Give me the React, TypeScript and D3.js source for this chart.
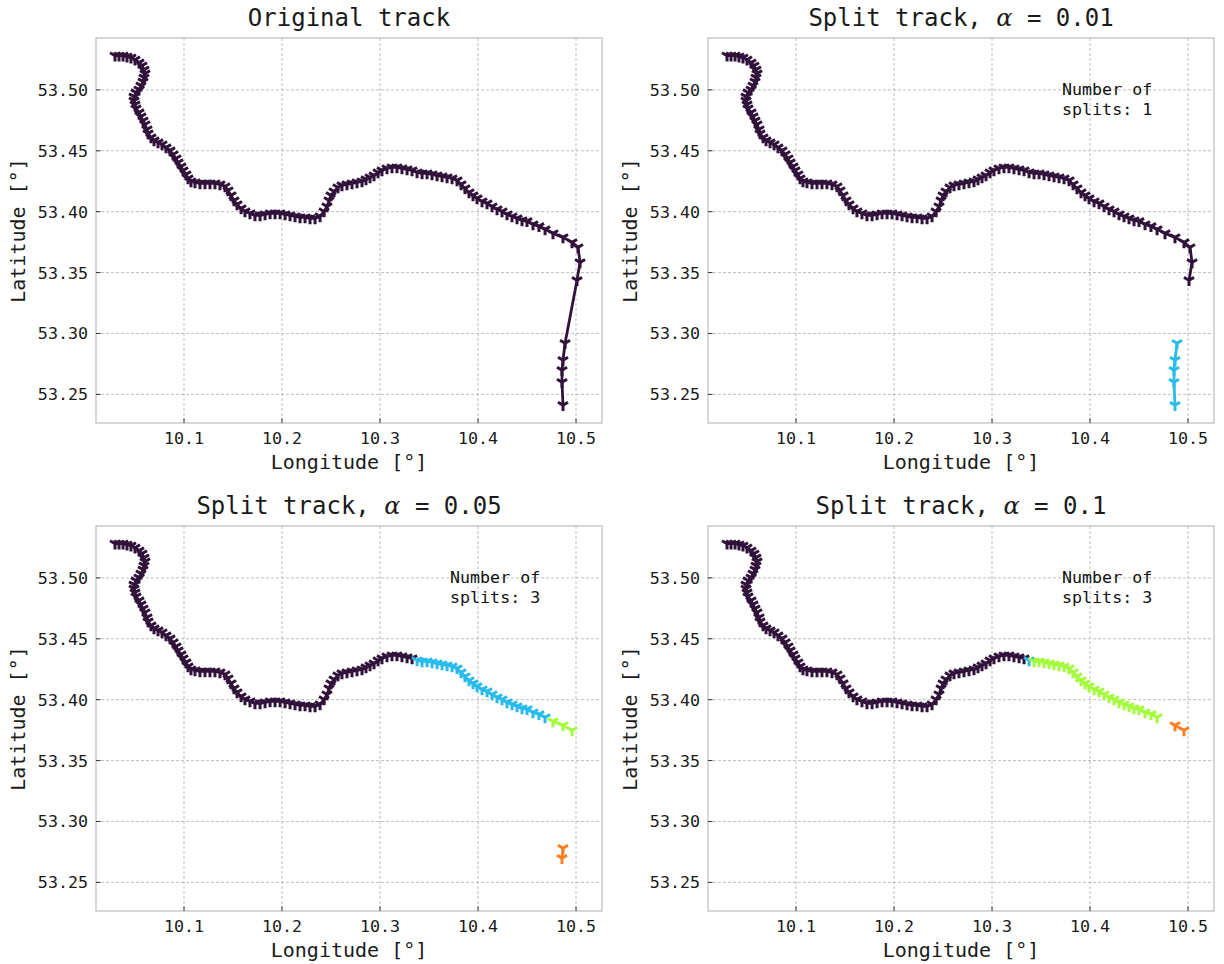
import React from "react";
import * as d3 from "d3";

// ---- data ----
const lon = [
  10.0296, 10.0337, 10.0378, 10.0418, 10.0459, 10.05, 10.0541, 10.0571, 10.0592, 10.0602,
  10.0592, 10.0582, 10.0561, 10.0541, 10.051, 10.049, 10.049, 10.05, 10.051, 10.0541,
  10.0561, 10.0582, 10.0602, 10.0622, 10.0633, 10.0663, 10.0694, 10.0735, 10.0776, 10.0816,
  10.0857, 10.0888, 10.0918, 10.0939, 10.0969, 10.099, 10.102, 10.1041, 10.1071, 10.1112,
  10.1163, 10.1214, 10.1265, 10.1316, 10.1367, 10.1418, 10.1449, 10.148, 10.151, 10.1541,
  10.1582, 10.1622, 10.1673, 10.1724, 10.1776, 10.1827, 10.1878, 10.1929, 10.198, 10.2031,
  10.2082, 10.2133, 10.2184, 10.2235, 10.2286, 10.2337, 10.2388, 10.2429, 10.2459, 10.248,
  10.25, 10.2531, 10.2571, 10.2612, 10.2663, 10.2714, 10.2765, 10.2816, 10.2857, 10.2898,
  10.2939, 10.298, 10.302, 10.3071, 10.3122, 10.3173, 10.3224, 10.3276, 10.3327, 10.3378,
  10.3429, 10.348, 10.3531, 10.3582, 10.3633, 10.3684, 10.3735, 10.3786, 10.3827, 10.3867,
  10.3908, 10.3949, 10.399, 10.4041, 10.4092, 10.4143, 10.4194, 10.4245, 10.4296, 10.4347,
  10.4398, 10.4449, 10.45, 10.4561, 10.4622, 10.4684, 10.4765, 10.4867, 10.4959, 10.502,
  10.5041, 10.501, 10.4888, 10.4867, 10.4857, 10.4857, 10.4867,
];
const lat = [
  53.5281, 53.5281, 53.5281, 53.5273, 53.5265, 53.5248, 53.5224, 53.5199, 53.5166, 53.5134,
  53.5101, 53.5068, 53.5035, 53.5002, 53.4978, 53.4945, 53.4912, 53.488, 53.4847, 53.4814,
  53.4781, 53.4748, 53.4716, 53.4675, 53.4642, 53.4609, 53.4584, 53.4568, 53.4552, 53.4527,
  53.4502, 53.447, 53.4437, 53.4404, 53.4371, 53.4339, 53.4306, 53.4273, 53.4248, 53.424,
  53.4232, 53.4232, 53.4232, 53.4232, 53.4224, 53.4207, 53.4175, 53.4134, 53.4093, 53.406,
  53.4027, 53.4002, 53.3986, 53.397, 53.397, 53.3978, 53.3986, 53.3986, 53.3986, 53.3978,
  53.397, 53.3961, 53.3953, 53.3953, 53.3945, 53.3945, 53.3961, 53.4002, 53.4043, 53.4093,
  53.4134, 53.4166, 53.4199, 53.4216, 53.4224, 53.4232, 53.424, 53.4248, 53.4265, 53.4281,
  53.4297, 53.4322, 53.4339, 53.4355, 53.4363, 53.4363, 53.4355, 53.4347, 53.4339, 53.4322,
  53.4314, 53.4314, 53.4306, 53.4297, 53.4289, 53.4281, 53.4273, 53.4257, 53.4224, 53.4191,
  53.4158, 53.4134, 53.4109, 53.4084, 53.4068, 53.4043, 53.4019, 53.4002, 53.3978, 53.3961,
  53.3945, 53.3929, 53.3921, 53.3896, 53.388, 53.3855, 53.3822, 53.3789, 53.3748, 53.3707,
  53.3584, 53.3437, 53.292, 53.2781, 53.2699, 53.2601, 53.2412,
];

const segmentColors = ["#30123b", "#28bbec", "#a2fc3c", "#fb8022"];

// segments: [firstIndex, lastIndex, colorIndex]
const segmentsOriginal = [[0, 126, 0]];
const segmentsAlpha001 = [[0, 121, 0], [122, 126, 1]];
const segmentsAlpha005 = [[0, 88, 0], [89, 115, 1], [116, 118, 2], [123, 124, 3]];
const segmentsAlpha01 = [[0, 88, 0], [89, 89, 1], [90, 115, 2], [117, 118, 3]];

const panelAlphas = [null, "0.01", "0.05", "0.1"];
const panelSplits = [null, 1, 3, 3];
const panelSegments = [segmentsOriginal, segmentsAlpha001, segmentsAlpha005, segmentsAlpha01];

const xTicks = [10.1, 10.2, 10.3, 10.4, 10.5];
const yTicks = [53.25, 53.3, 53.35, 53.4, 53.45, 53.5];

// ---- layout ----
const W = 1224;
const H = 964;
const PW = 506;
const PH = 385;
const colX = [96, 708];
const rowY = [38, 526];
const MONO = "'DejaVu Sans Mono', monospace";
const TICK_FS = 16.67;

const xScale = d3.scaleLinear().domain([10.0102, 10.5265]).range([0, PW]);
const yScale = d3.scaleLinear().domain([53.2265, 53.5426]).range([PH, 0]);

function TriDown({ x, y, color }: { x: number; y: number; color: string }) {
  const r = 5.8;
  const c = 0.866 * r;
  const d = `M${x},${y}L${x},${y + r}M${x},${y}L${x + c},${y - r / 2}M${x},${y}L${x - c},${y - r / 2}`;
  return <path d={d} stroke={color} strokeWidth={3} fill="none" strokeLinecap="butt" />;
}

function Panel({ idx }: { idx: number }) {
  const ox = colX[idx % 2];
  const oy = rowY[Math.floor(idx / 2)];
  const segs = panelSegments[idx];
  const alpha = panelAlphas[idx];
  const splits = panelSplits[idx];
  const line = d3
    .line<number>()
    .x((i) => xScale(lon[i]))
    .y((i) => yScale(lat[i]));
  return (
    <g transform={`translate(${ox},${oy})`}>
      {/* grid */}
      {xTicks.map((t) => (
        <line key={"gx" + t} x1={xScale(t)} x2={xScale(t)} y1={0} y2={PH}
          stroke="#b0b0b0" strokeWidth={0.8} strokeDasharray="3,2" />
      ))}
      {yTicks.map((t) => (
        <line key={"gy" + t} x1={0} x2={PW} y1={yScale(t)} y2={yScale(t)}
          stroke="#b0b0b0" strokeWidth={0.8} strokeDasharray="3,2" />
      ))}
      {/* track segments */}
      {segs.map(([a, b, ci], k) => {
        const ids = d3.range(a, b + 1);
        const col = segmentColors[ci];
        return (
          <g key={k}>
            <path d={line(ids) || ""} stroke={col} strokeWidth={2.8} fill="none" strokeLinejoin="round" />
            {ids.map((i) => (
              <TriDown key={i} x={xScale(lon[i])} y={yScale(lat[i])} color={col} />
            ))}
          </g>
        );
      })}
      {/* frame */}
      <rect x={0} y={0} width={PW} height={PH} fill="none" stroke="#bcbcbc" strokeWidth={1.2} />
      {/* ticks */}
      {xTicks.map((t) => (
        <g key={"tx" + t}>
          <line x1={xScale(t)} x2={xScale(t)} y1={PH} y2={PH - 4.5} stroke="#333" strokeWidth={1} />
          <text x={xScale(t)} y={PH + 21} textAnchor="middle" fontFamily={MONO} fontSize={TICK_FS} fill="#1a1a1a">
            {t.toFixed(1)}
          </text>
        </g>
      ))}
      {yTicks.map((t) => (
        <g key={"ty" + t}>
          <line x1={0} x2={4.5} y1={yScale(t)} y2={yScale(t)} stroke="#333" strokeWidth={1} />
          <text x={-8} y={yScale(t) + 6} textAnchor="end" fontFamily={MONO} fontSize={TICK_FS} fill="#1a1a1a">
            {t.toFixed(2)}
          </text>
        </g>
      ))}
      {/* axis labels */}
      <text x={PW / 2} y={PH + 46} textAnchor="middle" fontFamily={MONO} fontSize={20} fill="#1a1a1a">
        Longitude [°]
      </text>
      <text transform={`translate(${-71},${PH / 2}) rotate(-90)`} textAnchor="middle"
        fontFamily={MONO} fontSize={20} fill="#1a1a1a">
        Latitude [°]
      </text>
      {/* title */}
      <text x={PW / 2} y={-12} textAnchor="middle" fontFamily={MONO} fontSize={24} fill="#1a1a1a">
        {alpha === null ? (
          "Original track"
        ) : (
          <>
            {"Split track, "}
            <tspan fontFamily="'DejaVu Serif', serif" fontStyle="italic">α</tspan>
            {" = " + alpha}
          </>
        )}
      </text>
      {splits !== null && (
        <text fontFamily={MONO} fontSize={16.67} fill="#111">
          <tspan x={354} y={57}>Number of</tspan>
          <tspan x={354} y={77}>{"splits: " + splits}</tspan>
        </text>
      )}
    </g>
  );
}

export default function App() {
  return (
    <svg width={W} height={H} style={{ position: "absolute", left: 0, top: 0, background: "#fff" }}>
      <rect width={W} height={H} fill="#fff" />
      {[0, 1, 2, 3].map((i) => (
        <Panel key={i} idx={i} />
      ))}
    </svg>
  );
}
